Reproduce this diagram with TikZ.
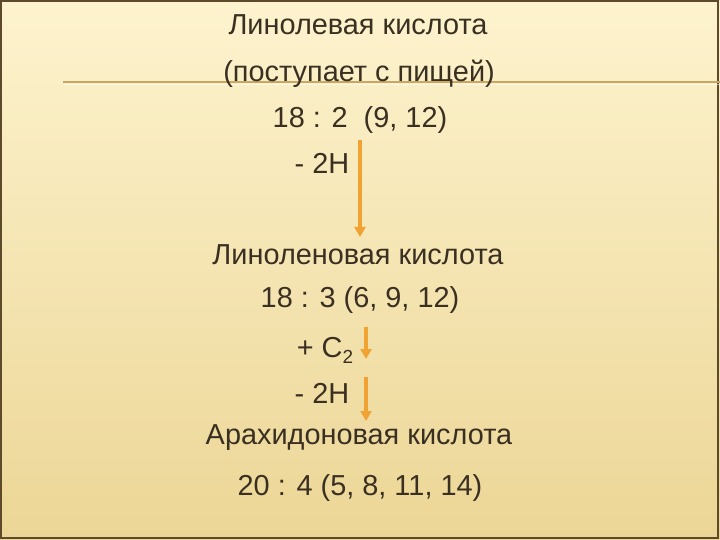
\documentclass[tikz,border=0pt]{standalone}
\usepackage{fontspec}
\setmainfont{Liberation Sans}
\usetikzlibrary{arrows.meta}
\definecolor{txt}{HTML}{3A3022}
\definecolor{arr}{HTML}{F0A232}
\definecolor{bgtop}{HTML}{FDF3CE}
\definecolor{bgbot}{HTML}{ECD696}
\definecolor{rim}{HTML}{5C4A2A}
\definecolor{rule}{HTML}{C9A666}
\newcommand{\lowidx}[1]{\raisebox{-0.45ex}{\fontsize{19}{19}\selectfont #1}}
\tikzset{
  label/.style={inner sep=0pt, text=txt, font=\fontsize{29}{32}\selectfont},
  step arrow/.style={draw=arr, line width=3.5bp, -{Triangle[length=10bp,width=11bp]}}
}
\begin{document}
\begin{tikzpicture}[x=1bp,y=1bp]
	\useasboundingbox (0,0) rectangle (720,-540);
	\shade [top color=bgtop, bottom color=bgbot] (0,0) rectangle (720,-540);
	\draw [rim, line width=1.2bp] (1,-1) rectangle (718,-538);
	\draw [rule, line width=1.2bp] (63,-82) -- (720,-82);
	\draw [white, opacity=0.5, line width=0.8bp] (63,-84) -- (720,-84);
	% first acid
	\node [label] (lin) at (358,-25) {Линолевая кислота};
	\node [label] (food) at (359,-74) {(поступает с пищей)};
	\node [label] (f1) at (360,-120) {18 : 2 \ (9, 12)};
	\node [label] (h1) at (322,-163) {- 2H};
	\coordinate (a1s) at (360,-140);
	\coordinate (a1e) at (360,-237);
	\draw [step arrow] (a1s) -- (a1e);
	% second acid
	\node [label] (len) at (358,-255) {Линоленовая кислота};
	\node [label] (f2) at (360,-300) {18 : 3 (6, 9, 12)};
	\node [label, anchor=base] (c2) at (325,-357) {+ C\lowidx{2}};
	\node [label] (h2) at (322,-393) {- 2H};
	\coordinate (a2s) at (366,-327);
	\coordinate (a2e) at (366,-359);
	\draw [step arrow] (a2s) -- (a2e);
	\coordinate (a3s) at (366,-377);
	\coordinate (a3e) at (366,-421);
	\draw [step arrow] (a3s) -- (a3e);
	% third acid
	\node [label] (ara) at (359,-438) {Арахидоновая кислота};
	\node [label] (f3) at (360,-488) {20 : 4 (5, 8, 11, 14)};
\end{tikzpicture}
\end{document}
